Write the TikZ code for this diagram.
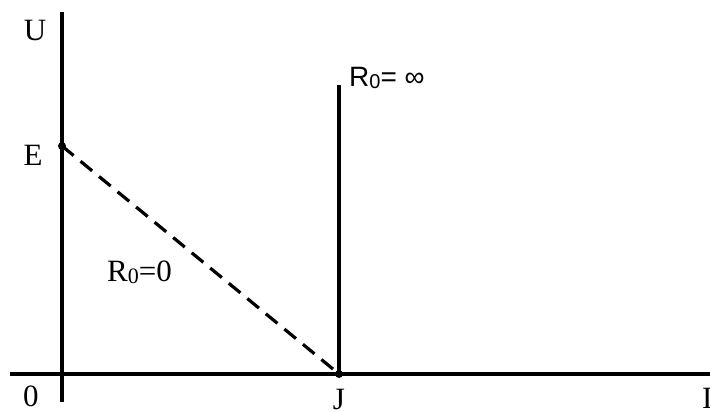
\documentclass[tikz,border=0pt]{standalone}
\usepackage{fontspec}
\setmainfont{Liberation Serif}
\newfontfamily\sansf{Liberation Sans}
\begin{document}
\begin{tikzpicture}[x=1pt,y=-1pt,
  axis/.style={line width=3.4pt},
  lbl/.style={inner sep=0pt,font=\fontsize{31}{33}\selectfont},
  dot/.style={circle,fill=black,inner sep=0pt,minimum size=8pt}]
\useasboundingbox (0,0) rectangle (710,412);
\coordinate (ytop) at (62,12);
\coordinate (ybot) at (62,402);
\coordinate (xl) at (10,374);
\coordinate (xr) at (712,374);
\coordinate (vtop) at (339,85);
\node[dot] (E) at (62,146) {};
\node[dot] (J) at (339,374) {};
\draw[axis] (ytop) -- (ybot);
\draw[axis] (xl) -- (xr);
\draw[axis] (vtop) -- (J.center);
\draw[line width=3.2pt,dash pattern=on 15pt off 9pt] (E.center) -- (J.center);
\node[lbl] (U) at (35,31) {U};
\node[lbl] (Elbl) at (33,155) {E};
\node[lbl] (O) at (31,396) {0};
\node[lbl] (Jlbl) at (339,399) {J};
\node[lbl,anchor=west] (I) at (702,398) {I};
\node[lbl,anchor=west] (R0) at (107,272) {R{\fontsize{22}{24}\selectfont\raisebox{-2pt}{0}}=0};
\node[lbl,anchor=west,font=\sansf\fontsize{28}{30}\selectfont] (Rinf) at (349,78) {R{\fontsize{20}{22}\selectfont\raisebox{-2pt}{0}}= ∞};
\end{tikzpicture}
\end{document}
